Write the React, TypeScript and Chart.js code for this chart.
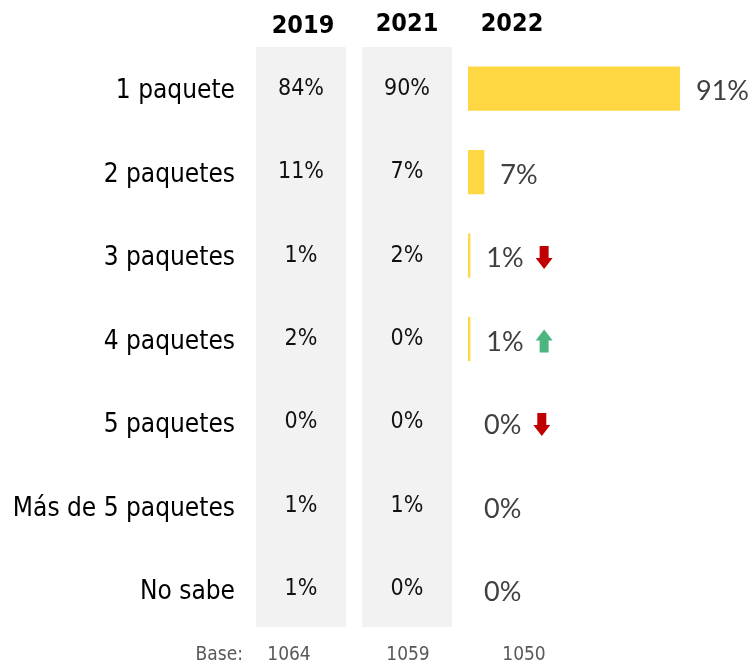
import React, { useEffect, useRef } from "react";
import { Chart, registerables } from "chart.js";

Chart.register(...registerables);

const categories = [
  "1 paquete",
  "2 paquetes",
  "3 paquetes",
  "4 paquetes",
  "5 paquetes",
  "Más de 5 paquetes",
  "No sabe",
];
const values2019 = [84, 11, 1, 2, 0, 1, 1];
const values2021 = [90, 7, 2, 0, 0, 1, 0];
const values2022 = [91, 7, 1, 1, 0, 0, 0];
// trend arrow vs previous wave: "down" | "up" | ""
const trend2022 = ["", "", "down", "up", "down", "", ""];
const yearLabels = ["2019", "2021", "2022"];
const baseLabel = "Base:";
const bases = ["1064", "1059", "1050"];

const LABEL_FONT = '"DejaVu Sans Condensed", "DejaVu Sans", sans-serif';
const VALUE_FONT = 'Lato, "Open Sans", sans-serif';

const overlayPlugin = {
  id: "overlay",
  beforeDatasetsDraw(chart: any) {
    const { ctx } = chart;
    ctx.save();
    ctx.fillStyle = "#F2F2F2";
    ctx.fillRect(256, 47, 90, 580);
    ctx.fillRect(362, 47, 90, 580);
    ctx.restore();
  },
  afterDatasetsDraw(chart: any) {
    const { ctx } = chart;
    const yScale = chart.scales.y;
    const xScale = chart.scales.x;
    ctx.save();
    ctx.textBaseline = "middle";

    // headers
    ctx.fillStyle = "#000";
    ctx.font = `bold 25px ${LABEL_FONT}`;
    ctx.textAlign = "center";
    const headerX = [303, 407, 512];
    const headerY = [26, 24, 24];
    yearLabels.forEach((t, i) => ctx.fillText(t, headerX[i], headerY[i]));

    categories.forEach((cat, i) => {
      const y = yScale.getPixelForValue(i);
      // category label
      ctx.fillStyle = "#000";
      ctx.font = `26px ${LABEL_FONT}`;
      ctx.textAlign = "right";
      ctx.fillText(cat, 235, y + 3);

      // previous years
      ctx.font = `23px ${LABEL_FONT}`;
      ctx.textAlign = "center";
      ctx.fillStyle = "#111";
      ctx.fillText(values2019[i] + "%", 301, y);
      ctx.fillText(values2021[i] + "%", 407, y);

      // 2022 label
      const xEnd = xScale.getPixelForValue(values2022[i]);
      ctx.font = `27px ${VALUE_FONT}`;
      ctx.textAlign = "left";
      ctx.fillStyle = "#404040";
      const txt = values2022[i] + "%";
      const tx = xEnd + 16;
      ctx.fillText(txt, tx, y + 3);
      const w = ctx.measureText(txt).width;

      const tr = trend2022[i];
      if (tr) {
        const ax = tx + w + 12;
        const aw = 17, ah = 23, sw = 9, hh = 11;
        const top = y + 2 - ah / 2;
        ctx.beginPath();
        if (tr === "down") {
          ctx.fillStyle = "#C00000";
          ctx.moveTo(ax + (aw - sw) / 2, top);
          ctx.lineTo(ax + (aw + sw) / 2, top);
          ctx.lineTo(ax + (aw + sw) / 2, top + ah - hh);
          ctx.lineTo(ax + aw, top + ah - hh);
          ctx.lineTo(ax + aw / 2, top + ah);
          ctx.lineTo(ax, top + ah - hh);
          ctx.lineTo(ax + (aw - sw) / 2, top + ah - hh);
        } else {
          ctx.fillStyle = "#4CB580";
          ctx.moveTo(ax + aw / 2, top);
          ctx.lineTo(ax + aw, top + hh);
          ctx.lineTo(ax + (aw + sw) / 2, top + hh);
          ctx.lineTo(ax + (aw + sw) / 2, top + ah);
          ctx.lineTo(ax + (aw - sw) / 2, top + ah);
          ctx.lineTo(ax + (aw - sw) / 2, top + hh);
          ctx.lineTo(ax, top + hh);
        }
        ctx.closePath();
        ctx.fill();
      }
    });

    // base row
    ctx.fillStyle = "#595959";
    ctx.font = `19px ${LABEL_FONT}`;
    ctx.textAlign = "right";
    ctx.fillText(baseLabel, 243, 655);
    ctx.textAlign = "center";
    const baseX = [289, 408, 524];
    bases.forEach((b, i) => ctx.fillText(b, baseX[i], 655));
    ctx.restore();
  },
};

export default function App() {
  const ref = useRef<HTMLCanvasElement | null>(null);
  useEffect(() => {
    if (!ref.current) return;
    const chart = new Chart(ref.current, {
      type: "bar",
      data: {
        labels: categories,
        datasets: [
          {
            data: values2022,
            backgroundColor: "#FED742",
            borderWidth: 0,
            barPercentage: 0.53,
            categoryPercentage: 1,
          },
        ],
      },
      options: {
        indexAxis: "y",
        animation: false,
        responsive: false,
        devicePixelRatio: 1,
        layout: { padding: { left: 468, right: 55, top: 47, bottom: 34 } },
        plugins: { legend: { display: false }, tooltip: { enabled: false } },
        scales: {
          x: { display: false, min: 0, max: 100 },
          y: { display: false },
        },
      },
      plugins: [overlayPlugin],
    });
    return () => chart.destroy();
  }, []);
  return (
    <div style={{ position: "absolute", left: 0, top: 0, width: 756, height: 665, background: "#fff" }}>
      <canvas ref={ref} width={756} height={665} />
    </div>
  );
}
